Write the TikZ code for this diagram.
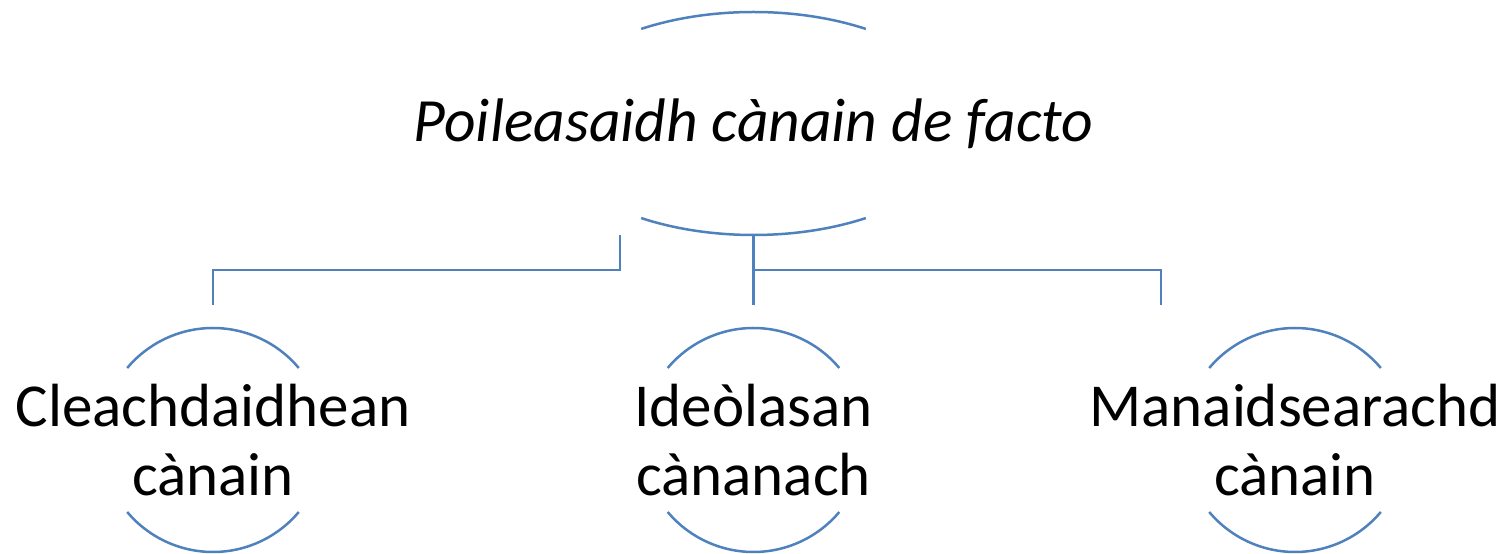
\documentclass[tikz,border=0pt]{standalone}
\usepackage{fontspec}
\setmainfont{Carlito}
\definecolor{arcblue}{HTML}{4F81BD}
\begin{document}
\begin{tikzpicture}[x=1pt,y=1pt,
  arcline/.style={draw=arcblue,line width=2.5pt},
  conn/.style={draw=arcblue,line width=2.5pt},
  toptext/.style={inner sep=0pt,font=\fontsize{61.5}{74}\selectfont\itshape},
  childtext/.style={inner sep=0pt,align=center,font=\fontsize{61}{69}\selectfont}]
\useasboundingbox (0,0) rectangle (1508,554);
% top node
\node[toptext] (top) at (753.5,430.5) {Poileasaidh cànain de facto};
\draw[arcline] ([shift={(58:212 and 111.5)}]top.center) arc[start angle=58,end angle=122,x radius=212,y radius=111.5];
\draw[arcline] ([shift={(238:212 and 111.5)}]top.center) arc[start angle=238,end angle=302,x radius=212,y radius=111.5];
% children
\node[childtext] (c1) at (213,114) {Cleachdaidhean\\cànain};
\node[childtext] (c2) at (753.5,114) {Ideòlasan\\cànanach};
\node[childtext] (c3) at (1295,114) {Manaidsearachd\\cànain};
\foreach \n in {c1,c2,c3}{
  \draw[arcline] ([shift={(40:112)}]\n.center) arc[start angle=40,end angle=140,radius=112];
  \draw[arcline] ([shift={(220:112)}]\n.center) arc[start angle=220,end angle=320,radius=112];
}
% connector points
\coordinate (tb) at ([yshift=-111.5]top.center);
\coordinate (ls) at (620,319);
\coordinate (c1t) at ([yshift=135]c1.center);
\coordinate (c2t) at ([yshift=135]c2.center);
\coordinate (c3t) at (1161,249);
\draw[conn] (ls) -- (620,284) -| (c1t);
\draw[conn] (tb) -- (c2t);
\draw[conn] (tb |- 0,284) -| (c3t);
\end{tikzpicture}
\end{document}
